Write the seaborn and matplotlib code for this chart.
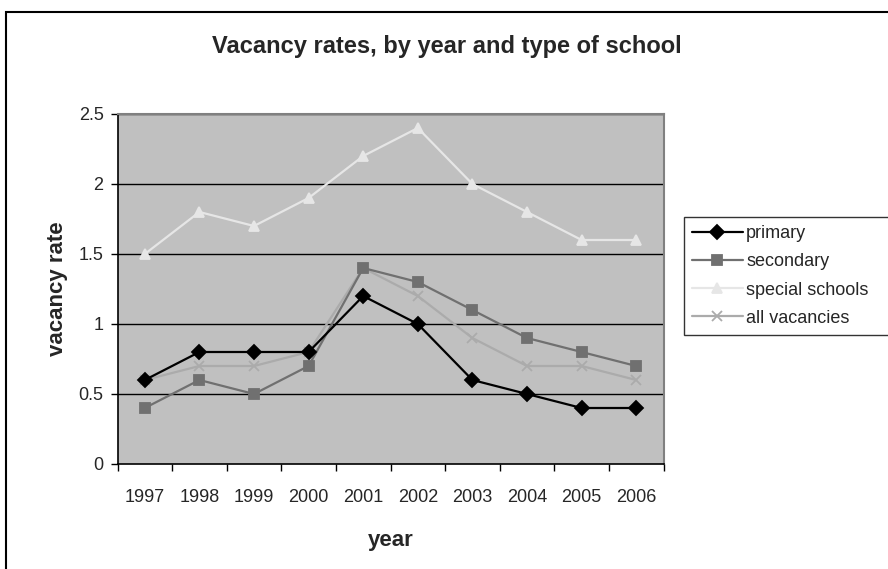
import pandas as pd
import matplotlib
matplotlib.use('Agg')
import matplotlib.pyplot as plt
import seaborn as sns
from matplotlib.patches import Rectangle

# data
years = ['1997', '1998', '1999', '2000', '2001', '2002', '2003', '2004', '2005', '2006']
primary = [0.6, 0.8, 0.8, 0.8, 1.2, 1.0, 0.6, 0.5, 0.4, 0.4]
secondary = [0.4, 0.6, 0.5, 0.7, 1.4, 1.3, 1.1, 0.9, 0.8, 0.7]
special_schools = [1.5, 1.8, 1.7, 1.9, 2.2, 2.4, 2.0, 1.8, 1.6, 1.6]
all_vacancies = [0.6, 0.7, 0.7, 0.8, 1.4, 1.2, 0.9, 0.7, 0.7, 0.6]
series_names = ['primary', 'secondary', 'special schools', 'all vacancies']
y_ticks = [0, 0.5, 1, 1.5, 2, 2.5]

df = pd.DataFrame({
    'pos': list(range(len(years))),
    'primary': primary,
    'secondary': secondary,
    'special schools': special_schools,
    'all vacancies': all_vacancies,
})

sns.set_style('white')
plt.rcParams['font.family'] = ['Liberation Sans', 'DejaVu Sans']

palette = {'primary': '#000000', 'secondary': '#707070',
           'special schools': '#E6E6E6', 'all vacancies': '#ABABAB'}
markers = {'primary': 'D', 'secondary': 's',
           'special schools': '^', 'all vacancies': 'x'}

fig = plt.figure(figsize=(8.88, 5.69), dpi=100)
ax = fig.add_axes([117.5 / 888, 105 / 569, 546 / 888, 350 / 569])
ax.set_facecolor('#C0C0C0')

# outer chart border
fig.patches.append(Rectangle((6 / 888, -0.1), 1.2, 1.1 - 12 / 569, transform=fig.transFigure,
                             fill=False, edgecolor='black', linewidth=1.5))

for y in y_ticks[1:]:
    ax.axhline(y, color='black', linewidth=1, zorder=1)

# draw back to front like the original
for name in ['special schools', 'all vacancies', 'secondary', 'primary']:
    sns.lineplot(data=df, x='pos', y=name, color=palette[name], marker=markers[name],
                 markersize=7, linewidth=1.6, markeredgewidth=1.3,
                 markeredgecolor=palette[name], ax=ax, zorder=3)

ax.set_xlim(-0.5, len(years) - 0.5)
ax.set_ylim(0, 2.5)
ax.set_yticks(y_ticks)
ax.set_yticklabels(['0', '0.5', '1', '1.5', '2', '2.5'])
ax.set_xticks(range(len(years)))
ax.set_xticklabels(years)
ax.set_xticks([i - 0.5 for i in range(len(years) + 1)], minor=True)
ax.tick_params(bottom=True, left=True, which='both')
ax.tick_params(axis='x', which='major', length=0, pad=18, labelsize=13)
ax.tick_params(axis='x', which='minor', length=5, width=1, color='black', direction='out')
ax.tick_params(axis='y', which='major', length=5, width=1, color='black', direction='out',
               pad=5, labelsize=13)

for side in ['left', 'bottom']:
    ax.spines[side].set_color('black')
    ax.spines[side].set_linewidth(1.2)
for side in ['top', 'right']:
    ax.spines[side].set_visible(True)
    ax.spines[side].set_color('#808080')
    ax.spines[side].set_linewidth(1.5)

ax.set_xlabel('year', fontsize=16, fontweight='bold', labelpad=17)
ax.set_ylabel('vacancy rate', fontsize=16, fontweight='bold', labelpad=8)
fig.text(447 / 888, 1 - 46 / 569, 'Vacancy rates, by year and type of school',
         ha='center', va='center', fontsize=17, fontweight='bold')

handles = []
for name in series_names:
    h, = ax.plot([], [], color=palette[name], marker=markers[name], markersize=7,
                 markeredgecolor=palette[name], linewidth=1.6, markeredgewidth=1.3)
    handles.append(h)
# legend box runs off the right edge in the original
leg = fig.legend(handles, series_names, loc='upper left',
                 bbox_to_anchor=(684 / 888, 1 - 217 / 569, 210 / 888, 0), mode='expand',
                 frameon=True, fancybox=False, edgecolor='black', fontsize=13,
                 handlelength=2.8, handletextpad=0.2, labelspacing=0.62,
                 borderpad=0.45, borderaxespad=0)
leg.get_frame().set_linewidth(1)

fig.savefig('out.png', dpi=100)
plt.close(fig)
